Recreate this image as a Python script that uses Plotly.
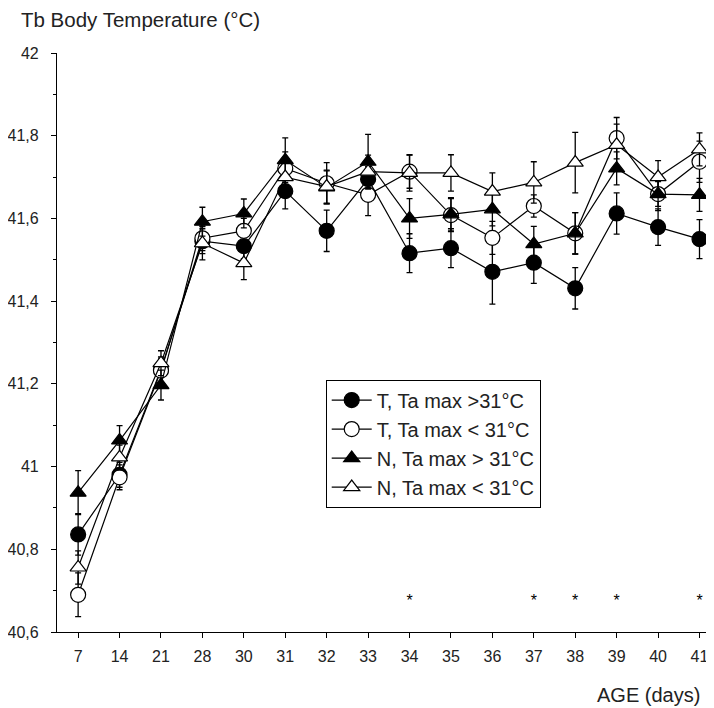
import plotly.graph_objects as go

ages = ["7", "14", "21", "28", "30", "31", "32", "33", "34", "35", "36", "37", "38", "39", "40", "41"]

t_hot = [40.836, 40.98, 41.235, 41.545, 41.533, 41.666, 41.57, 41.695, 41.516, 41.528, 41.471, 41.493, 41.431, 41.612, 41.579, 41.55]
t_hot_err = [0.05, 0.03, 0.03, 0.03, 0.03, 0.043, 0.05, 0.03, 0.047, 0.047, 0.078, 0.05, 0.05, 0.05, 0.044, 0.047]

t_cool = [40.69, 40.974, 41.232, 41.552, 41.57, 41.721, 41.685, 41.657, 41.713, 41.608, 41.553, 41.63, 41.564, 41.794, 41.659, 41.737]
t_cool_err = [0.053, 0.03, 0.03, 0.03, 0.03, 0.04, 0.05, 0.05, 0.04, 0.04, 0.04, 0.027, 0.05, 0.05, 0.04, 0.05]

n_hot = [40.937, 41.063, 41.197, 41.592, 41.612, 41.741, 41.675, 41.737, 41.60, 41.61, 41.622, 41.538, 41.564, 41.721, 41.659, 41.657]
n_hot_err = [0.053, 0.036, 0.036, 0.035, 0.035, 0.054, 0.04, 0.066, 0.048, 0.04, 0.04, 0.043, 0.05, 0.04, 0.03, 0.04]

n_cool = [40.756, 41.022, 41.25, 41.54, 41.492, 41.70, 41.677, 41.713, 41.71, 41.71, 41.665, 41.687, 41.735, 41.778, 41.70, 41.767]
n_cool_err = [0.04, 0.03, 0.03, 0.04, 0.04, 0.04, 0.04, 0.04, 0.044, 0.044, 0.045, 0.05, 0.073, 0.05, 0.04, 0.04]

star_ages = ["34", "37", "38", "39", "41"]
star_level = 40.672

y_tickvals = [40.6, 40.8, 41.0, 41.2, 41.4, 41.6, 41.8, 42.0]
y_ticktext = ["40,6", "40,8", "41", "41,2", "41,4", "41,6", "41,8", "42"]

xidx = list(range(len(ages)))
FONT = "Liberation Sans, Arial, sans-serif"
TXT = "#222"

series = [
    ("T, Ta max >31°C", t_hot, t_hot_err, "circle", "black", 15),
    ("T, Ta max < 31°C", t_cool, t_cool_err, "circle", "white", 15),
    ("N, Ta max > 31°C", n_hot, n_hot_err, "triangle-up", "black", 14),
    ("N, Ta max < 31°C", n_cool, n_cool_err, "triangle-up", "white", 14),
]

fig = go.Figure()
for name, vals, errs, sym, fill, size in series:
    fig.add_trace(go.Scatter(
        x=xidx, y=vals, name=name, mode="lines+markers",
        line=dict(color="black", width=1.2),
        marker=dict(symbol=sym, color=fill, size=size, line=dict(color="black", width=1.2)),
        error_y=dict(type="data", array=errs, visible=True, color="black", thickness=1.3, width=3),
    ))

fig.add_trace(go.Scatter(
    x=[ages.index(a) for a in star_ages], y=[star_level] * len(star_ages),
    mode="text", text=["*"] * len(star_ages), showlegend=False,
    textfont=dict(family=FONT, size=16, color="black"), hoverinfo="skip",
))

fig.update_layout(
    width=706, height=700,
    margin=dict(l=44, r=0, t=45, b=76),
    paper_bgcolor="white", plot_bgcolor="white",
    font=dict(family=FONT, size=16, color=TXT),
    title=dict(
        text="Tb Body Temperature (°C)", xref="container", yref="container",
        x=0.0184, y=0.9835, xanchor="left", yanchor="middle",
        font=dict(family=FONT, size=20.5, color=TXT),
    ),
    showlegend=True,
    legend=dict(
        x=0.409, y=0.436, xanchor="left", yanchor="top",
        bordercolor="black", borderwidth=1, bgcolor="white",
        font=dict(family=FONT, size=20, color=TXT),
        tracegroupgap=0, itemwidth=40,
    ),
    xaxis=dict(
        range=[-0.51, 15.35], tickmode="array", tickvals=xidx, ticktext=ages,
        showgrid=False, zeroline=False, showline=True, linecolor="black", linewidth=1.2,
        ticks="outside", ticklen=5, tickcolor="black", ticklabelstandoff=5,
        tickfont=dict(family=FONT, size=16, color=TXT),
    ),
    yaxis=dict(
        range=[40.6, 42.0], tickmode="array", tickvals=y_tickvals, ticktext=y_ticktext,
        showgrid=False, zeroline=False, showline=True, linecolor="black", linewidth=1.2,
        ticks="outside", ticklen=5, tickcolor="black", ticklabelstandoff=9,
        tickfont=dict(family=FONT, size=16, color=TXT),
        minor=dict(ticks="outside", ticklen=3, dtick=0.1, tick0=40.6, tickcolor="black", showgrid=False),
    ),
    annotations=[
        dict(text="AGE (days)", xref="paper", yref="paper", x=0.982, y=-0.109,
             xanchor="right", yanchor="middle", showarrow=False,
             font=dict(family=FONT, size=20, color=TXT)),
    ],
)

fig.write_html("out.html")
